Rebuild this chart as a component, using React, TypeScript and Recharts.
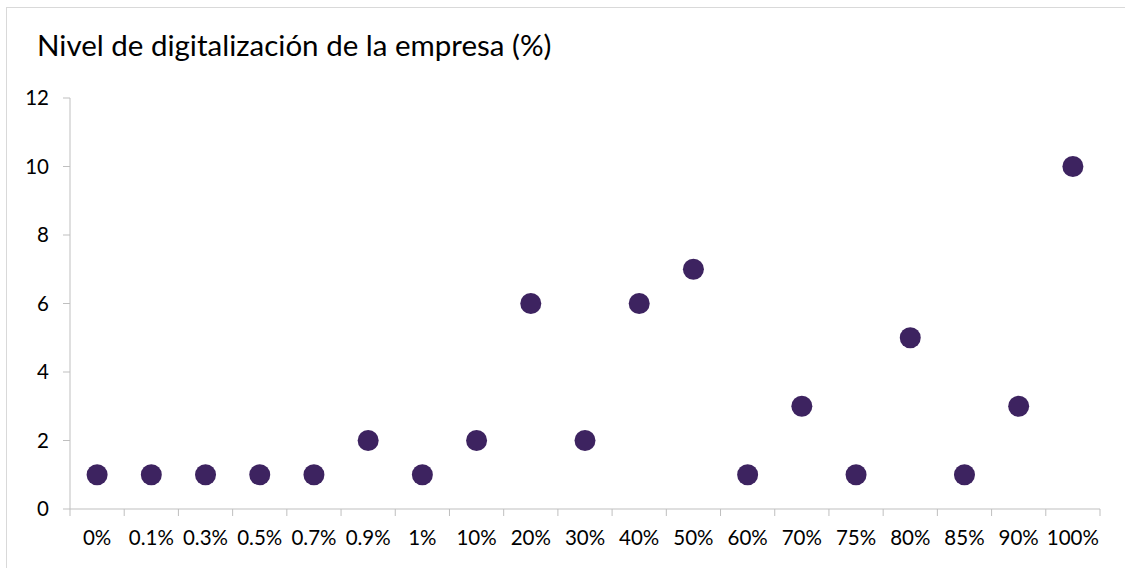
import { ComposedChart, Scatter, XAxis, YAxis } from 'recharts'

const LEVELS = ['0%', '0.1%', '0.3%', '0.5%', '0.7%', '0.9%', '1%', '10%', '20%', '30%', '40%', '50%', '60%', '70%', '75%', '80%', '85%', '90%', '100%']
const COUNTS = [1, 1, 1, 1, 1, 2, 1, 2, 6, 2, 6, 7, 1, 3, 1, 5, 1, 3, 10]
const Y_TICKS = [0, 2, 4, 6, 8, 10, 12]

const data = LEVELS.map((label, i) => ({ label, count: COUNTS[i] }))

const AXIS_GREY = '#bfbfbf'
const DOT = '#3d2360'
const FONT = 'Lato, "Open Sans", sans-serif'

const Dot = (props: any) => <circle cx={props.cx} cy={props.cy} r={10.5} fill={DOT} />

// label at the band centre, tick marks on the band edges (Excel "between tick marks")
const CategoryTick = (props: any) => {
  const { x, y, payload, index } = props
  const half = payload?.offset ?? 0
  const last = index === LEVELS.length - 1
  return (
    <g>
      <line x1={x - half} x2={x - half} y1={y} y2={y + 7} stroke={AXIS_GREY} />
      {last && <line x1={x + half} x2={x + half} y1={y} y2={y + 7} stroke={AXIS_GREY} />}
      <text x={x} y={y + 36} textAnchor="middle" fill="#000" fontSize={20.5} fontFamily={FONT}>
        {payload.value}
      </text>
    </g>
  )
}

export default function App() {
  return (
    <div style={{ position: 'absolute', left: 0, top: 0, width: 1125, height: 568, background: '#fff', overflow: 'hidden', fontFamily: FONT }}>
      {/* chart frame */}
      <div style={{ position: 'absolute', left: 6, top: 7, width: 1200, height: 700, border: '1px solid #d9d9d9' }} />
      <div style={{ position: 'absolute', left: 37, top: 27, fontSize: 29.5, color: '#000', whiteSpace: 'nowrap' }}>
        Nivel de digitalización de la empresa (%)
      </div>
      <div style={{ position: 'absolute', left: 0, top: 0 }}>
        <ComposedChart width={1125} height={568} data={data} margin={{ top: 98, right: 25, left: 10, bottom: 19 }}>
          <XAxis
            dataKey="label"
            scale="band"
            axisLine={{ stroke: AXIS_GREY }}
            tickLine={false}
            tickSize={0}
            tickMargin={0}
            interval={0}
            height={40}
            tick={<CategoryTick />}
          />
          <YAxis
            domain={[0, 12]}
            ticks={Y_TICKS}
            width={60}
            stroke={AXIS_GREY}
            tickSize={7}
            tickMargin={14}
            tick={{ fill: '#000', fontSize: 20.5, fontFamily: FONT }}
          />
          <Scatter dataKey="count" shape={Dot} isAnimationActive={false} />
        </ComposedChart>
      </div>
    </div>
  )
}
